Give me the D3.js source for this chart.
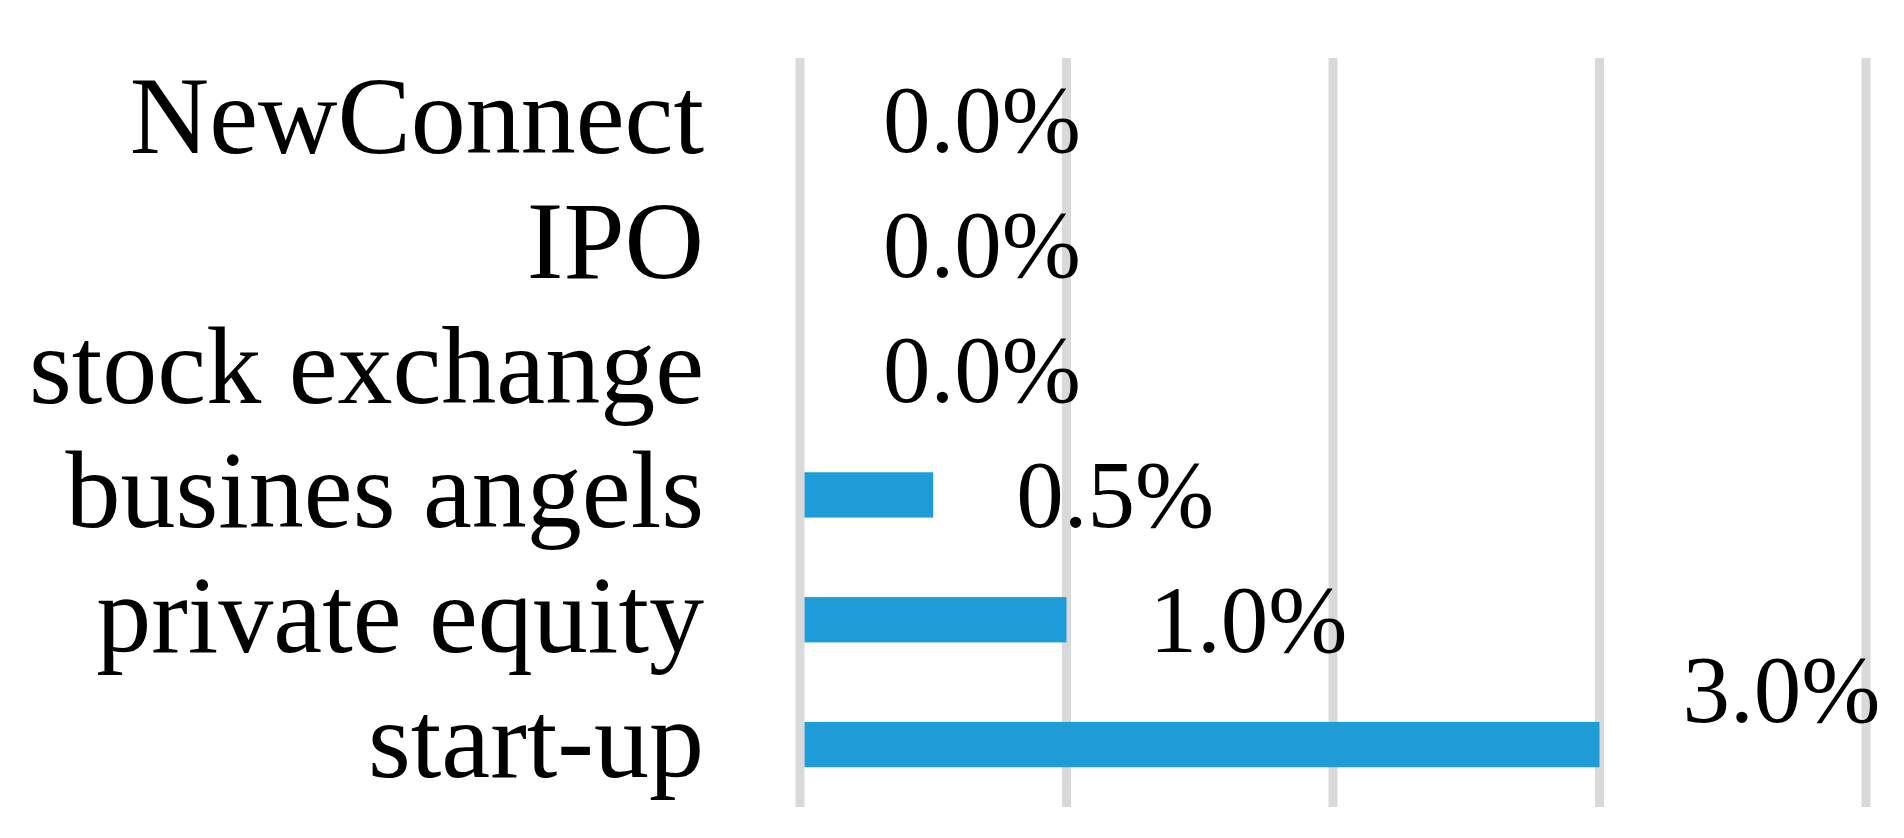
<!DOCTYPE html>
<html>
<head>
<meta charset="utf-8">
<script src="https://cdn.jsdelivr.net/npm/d3@7/dist/d3.min.js"></script>
<style>
  html, body { margin: 0; padding: 0; background: #ffffff; }
  svg { display: block; }
  text { font-family: "Liberation Serif", "Times New Roman", serif; fill: #000; }
</style>
</head>
<body>
<svg id="chart" width="1904" height="838"></svg>
<script>
// ---- data ----
const categories = ["NewConnect", "IPO", "stock exchange", "busines angels", "private equity", "start-up"];
const values = [0.0, 0.0, 0.0, 0.5, 1.0, 3.0];
const xTicks = [0, 1, 2, 3, 4];

// ---- layout ----
const W = 1904, H = 838;
const svg = d3.select("#chart");
svg.append("rect").attr("width", W).attr("height", H).attr("fill", "#ffffff");

const x = d3.scaleLinear().domain([0, 4]).range([800, 1866]);
const y = d3.scaleBand().domain(categories).range([58, 807])
  .paddingInner(0.637).paddingOuter(0.3185);

const gridW = 9;

// gridlines
svg.append("g").selectAll("line").data(xTicks).join("line")
  .attr("x1", d => x(d)).attr("x2", d => x(d))
  .attr("y1", 58).attr("y2", 807)
  .attr("stroke", "#d9d9d9").attr("stroke-width", gridW);

// bars
const rows = categories.map((c, i) => ({ c, v: values[i] }));
svg.append("g").selectAll("rect").data(rows.filter(d => d.v > 0)).join("rect")
  .attr("x", x(0) + gridW / 2)
  .attr("y", d => y(d.c))
  .attr("width", d => Math.max(0, x(d.v) - x(0) - gridW / 2))
  .attr("height", y.bandwidth())
  .attr("fill", "#1e9cd8");

// category labels
svg.append("g").selectAll("text").data(categories).join("text")
  .attr("x", 704)
  .attr("y", d => y(d) + y.bandwidth() / 2 + 32.5)
  .attr("text-anchor", "end")
  .attr("font-size", 110)
  .text(d => d);

// value labels
const fmt = d3.format(".1f");
const lab = svg.append("g").selectAll("text").data(rows).join("text")
  .attr("x", d => x(d.v) + 83)
  .attr("y", d => y(d.c) + y.bandwidth() / 2 + 32)
  .attr("font-size", 95)
  .text(d => fmt(d.v) + "%");

// labels that would overflow the plot area are lifted above their bar
lab.each(function(d) {
  const bb = this.getBBox();
  if (bb.x + bb.width > x(4)) {
    d3.select(this).attr("y", y(d.c));
  }
});
</script>
</body>
</html>
